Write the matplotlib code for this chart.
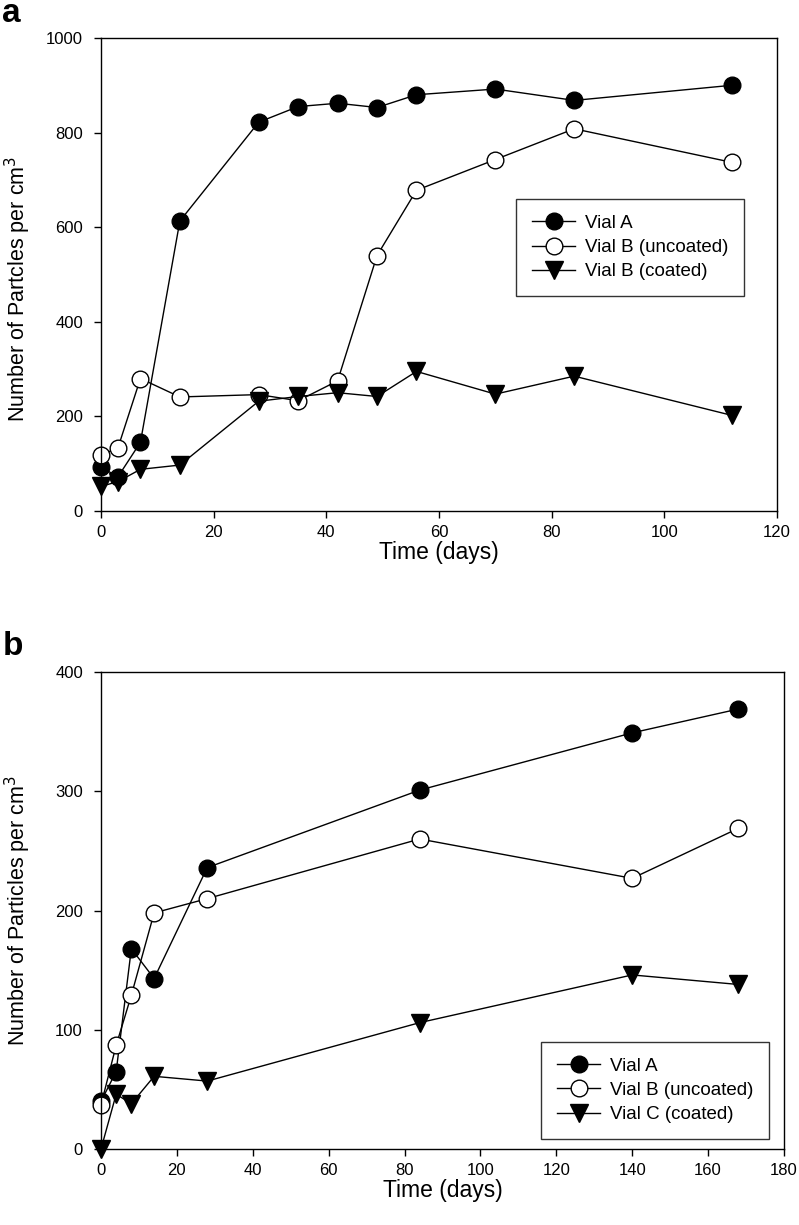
import numpy as np
import matplotlib.pyplot as plt

plt.rcParams['font.family'] = ['Liberation Sans', 'DejaVu Sans']

# Panel a
dias_a = [0, 3, 7, 14, 28, 35, 42, 49, 56, 70, 84, 112]
vial_a_a = [93, 72, 145, 613, 822, 855, 862, 853, 880, 892, 868, 900]
vial_b_unc_a = [118, 133, 280, 241, 246, 233, 275, 540, 678, 743, 808, 737]
vial_b_coat_a = [52, 62, 88, 97, 232, 242, 250, 242, 295, 247, 285, 202]
labels_a = ['Vial A', 'Vial B (uncoated)', 'Vial B (coated)']

# Panel b
dias_b = [0, 4, 8, 14, 28, 84, 140, 168]
vial_a_b = [40, 65, 168, 143, 236, 301, 349, 369]
vial_b_b = [37, 87, 129, 198, 210, 260, 227, 269]
vial_c_b = [0, 46, 38, 61, 57, 106, 146, 138]
labels_b = ['Vial A', 'Vial B (uncoated)', 'Vial C (coated)']

fig = plt.figure(figsize=(7.99, 12.25), dpi=100)
ax1 = fig.add_axes([0.1264, 0.5829, 0.8461, 0.3861])
ax2 = fig.add_axes([0.1264, 0.0620, 0.8548, 0.3894])

estilo = dict(color='black', lw=1, markeredgecolor='black', markeredgewidth=1, clip_on=False)

def dibujar(ax, x, series, labels):
    ax.plot(x, series[0], marker='o', markersize=12, markerfacecolor='black', label=labels[0], **estilo)
    ax.plot(x, series[1], marker='o', markersize=12, markerfacecolor='white', label=labels[1], **estilo)
    ax.plot(x, series[2], marker='v', markersize=13, markerfacecolor='black', label=labels[2], **estilo)
    for s in ax.spines.values():
        s.set_linewidth(1)
    ax.tick_params(direction='out', length=5, width=1, labelsize=12)
    ax.tick_params(axis='x', pad=5)
    ax.tick_params(axis='y', pad=8)

def leyenda(ax, loc, anchor):
    leg = ax.legend(loc=loc, bbox_to_anchor=anchor, borderaxespad=0, frameon=True, fancybox=False,
                    edgecolor='black', fontsize=13.5, handlelength=2.3, handletextpad=0.5,
                    borderpad=0.85, labelspacing=0.38)
    leg.get_frame().set_linewidth(1)

dibujar(ax1, dias_a, [vial_a_a, vial_b_unc_a, vial_b_coat_a], labels_a)
ax1.set_xlim(0, 120)
ax1.set_ylim(0, 1000)
ax1.set_xticks(np.arange(0, 121, 20))
ax1.set_yticks(np.arange(0, 1001, 200))
ax1.set_xlabel('Time (days)', fontsize=16.5, labelpad=1)
ax1.set_ylabel('Number of Partcles per cm$^3$', fontsize=15.5)
ax1.yaxis.set_label_coords(-0.1006, 0.47)
leyenda(ax1, 'upper left', (0.614, 0.66))

dibujar(ax2, dias_b, [vial_a_b, vial_b_b, vial_c_b], labels_b)
ax2.set_xlim(0, 180)
ax2.set_ylim(0, 400)
ax2.set_xticks(np.arange(0, 181, 20))
ax2.set_yticks(np.arange(0, 401, 100))
ax2.set_xlabel('Time (days)', fontsize=16.5, labelpad=1)
ax2.set_ylabel('Number of Particles per cm$^3$', fontsize=15.5)
ax2.yaxis.set_label_coords(-0.0996, 0.5)
leyenda(ax2, 'lower right', (0.978, 0.021))

fig.text(0.003, 0.982, 'a', fontsize=24, fontweight='bold', va='baseline')
fig.text(0.003, 0.4653, 'b', fontsize=24, fontweight='bold', va='baseline')

fig.savefig('out.png', dpi=100)
